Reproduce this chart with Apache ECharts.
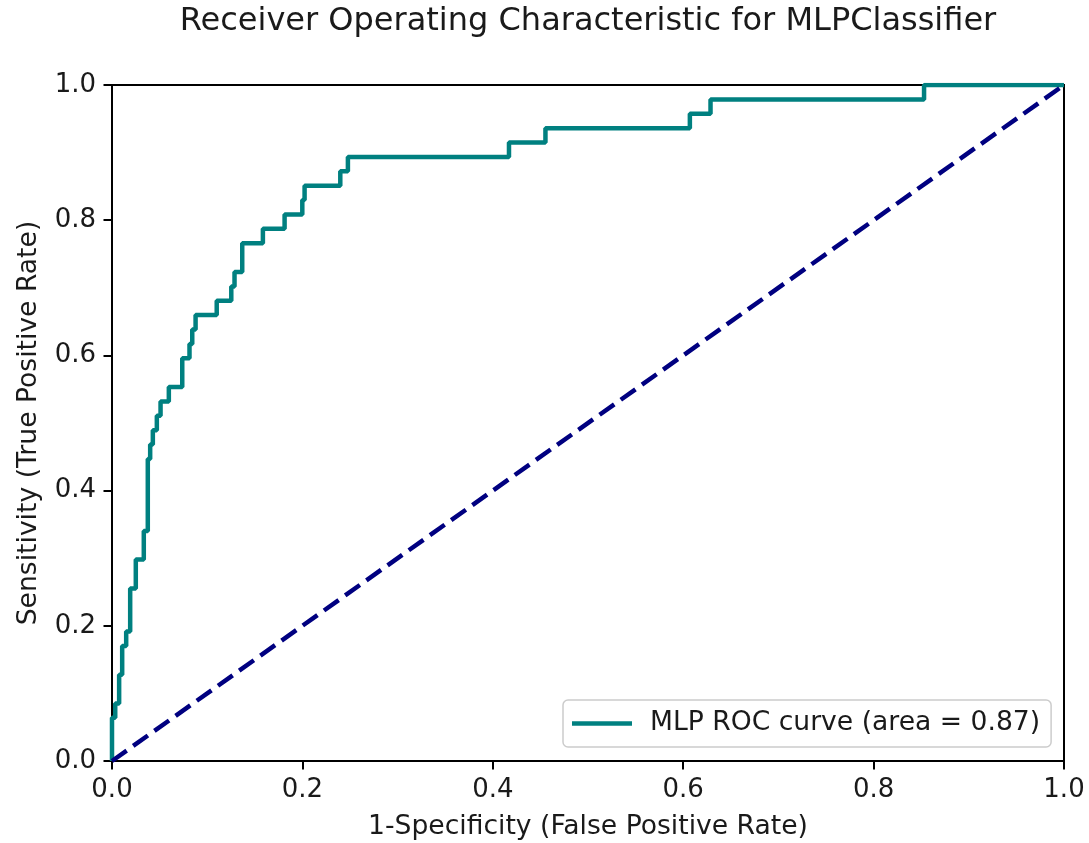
<!DOCTYPE html>
<html>
<head>
<meta charset="utf-8">
<script src="https://cdn.jsdelivr.net/npm/echarts@6/dist/echarts.min.js"></script>
<style>
html,body{margin:0;padding:0;background:#fff;}
#chart{width:1089px;height:843px;}
</style>
</head>
<body>
<div id="chart"></div>
<script>
// ROC curve points (top of each vertical jump)
const rocFpr = [0, 0, 0.0034, 0.0075, 0.0107, 0.0149, 0.0191, 0.0250, 0.0334, 0.0376, 0.0401, 0.0429, 0.0471, 0.0510, 0.0597, 0.0738, 0.0814, 0.0843, 0.0878, 0.1100, 0.1253, 0.1287, 0.1368, 0.1585, 0.1813, 0.1999, 0.2023, 0.2398, 0.2478, 0.4170, 0.4553, 0.6070, 0.6287, 0.8530, 1.0];
const rocTpr = [0, 0.0638, 0.0851, 0.1277, 0.1702, 0.1915, 0.2553, 0.2979, 0.3404, 0.4468, 0.4681, 0.4894, 0.5106, 0.5319, 0.5532, 0.5957, 0.6170, 0.6383, 0.6596, 0.6809, 0.7021, 0.7234, 0.7660, 0.7872, 0.8085, 0.8298, 0.8511, 0.8723, 0.8936, 0.9149, 0.9362, 0.9574, 0.9787, 1.0, 1.0];
// chance diagonal
const chanceX = [0, 1];
const chanceY = [0, 1];
const xTicks = [0, 0.2, 0.4, 0.6, 0.8, 1.0];
const yTicks = [0, 0.2, 0.4, 0.6, 0.8, 1.0];
const titleText = 'Receiver Operating Characteristic for MLPClassifier';
const xLabel = '1-Specificity (False Positive Rate)';
const yLabel = 'Sensitivity (True Positive Rate)';
const rocName = 'MLP ROC curve (area = 0.87)';

const FONT = 'DejaVu Sans';
const chart = echarts.init(document.getElementById('chart'), null, {renderer: 'canvas'});

const gridLeft = 112, gridRight = 25, gridTop = 85, gridBottom = 82;
const plotCenterX = gridLeft + (1089 - gridLeft - gridRight) / 2;

const axisCommon = {
  type: 'value',
  min: 0, max: 1, interval: 0.2,
  axisLine: {show: false},
  axisTick: {show: true, length: 8.5, lineStyle: {color: '#000', width: 2}},
  splitLine: {show: false},
  axisLabel: {color: '#1a1a1a', fontFamily: FONT, fontSize: 26, margin: 16,
    formatter: v => v.toFixed(1)},
  nameLocation: 'middle',
  nameTextStyle: {color: '#1a1a1a', fontFamily: FONT, fontSize: 26.6}
};

chart.setOption({
  animation: false,
  backgroundColor: '#fff',
  title: {
    text: titleText,
    left: plotCenterX, top: 6, textAlign: 'center', padding: 0,
    textStyle: {color: '#1a1a1a', fontFamily: FONT, fontSize: 32, fontWeight: 'normal'}
  },
  grid: {
    left: gridLeft, right: gridRight, top: gridTop, bottom: gridBottom,
    containLabel: false, outerBoundsMode: 'none',
    show: true, borderColor: '#000', borderWidth: 2, backgroundColor: '#fff'
  },
  legend: {
    data: [{name: rocName, icon: 'rect'}],
    left: 563, top: 700,
    orient: 'vertical',
    padding: [10, 11, 10, 9],
    backgroundColor: 'rgba(255,255,255,0.8)',
    borderColor: '#cccccc', borderWidth: 1.5, borderRadius: 5,
    itemWidth: 60, itemHeight: 4.5,
    textStyle: {color: '#1a1a1a', fontFamily: FONT, fontSize: 26.6, padding: [0, 0, 0, 13]}
  },
  xAxis: Object.assign({}, axisCommon, {name: xLabel, nameGap: 53}),
  yAxis: Object.assign({}, axisCommon, {name: yLabel, nameGap: 69}),
  series: [
    {
      name: rocName,
      type: 'line',
      step: 'end',
      symbol: 'none',
      showSymbol: false,
      data: rocFpr.map((x, i) => [x, rocTpr[i]]),
      lineStyle: {color: '#008080', width: 4.5},
      itemStyle: {color: '#008080'},
      z: 2
    },
    {
      name: 'chance',
      type: 'line',
      symbol: 'none',
      showSymbol: false,
      data: chanceX.map((x, i) => [x, chanceY[i]]),
      lineStyle: {color: '#000080', width: 4.5, type: [18, 8]},
      itemStyle: {color: '#000080'},
      z: 3
    }
  ]
});
</script>
</body>
</html>
